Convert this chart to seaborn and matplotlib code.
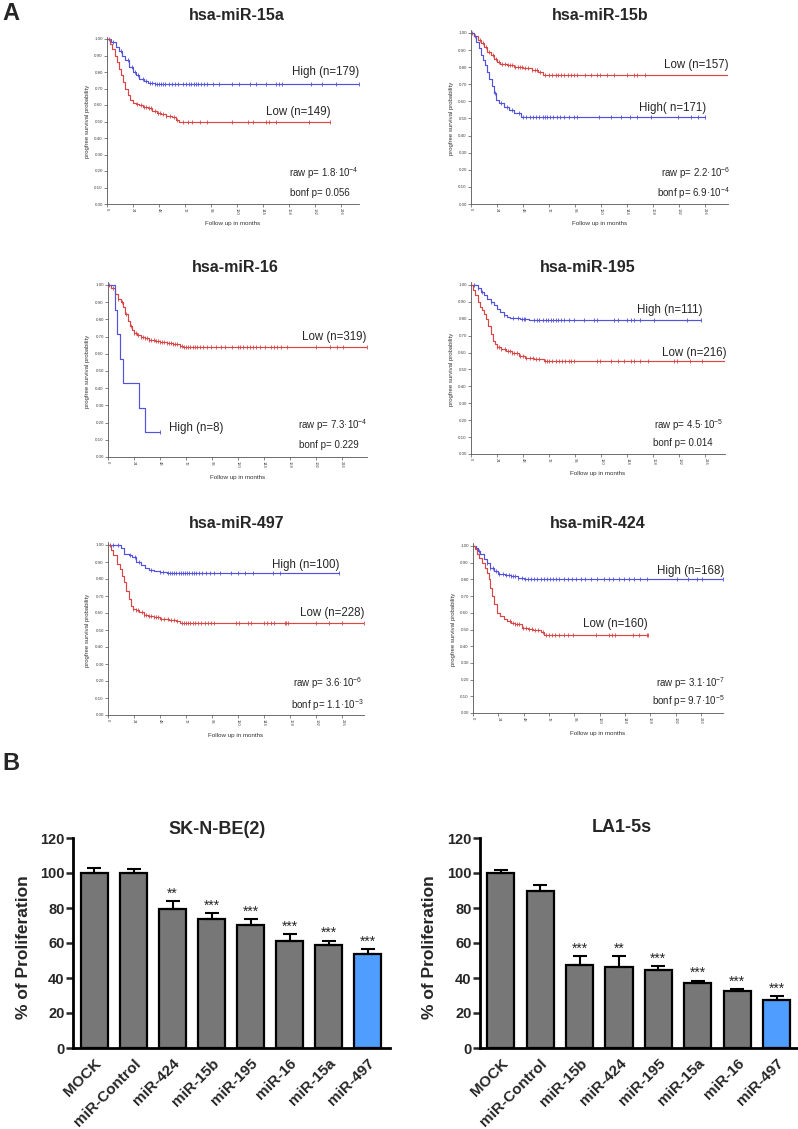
import matplotlib
matplotlib.use('Agg')
import matplotlib.pyplot as plt
import numpy as np
import seaborn as sns

sns.set_style('ticks')
plt.rcParams['font.family'] = ['Liberation Sans', 'DejaVu Sans']

BLUE = '#5252dc'
RED = '#d94646'

# ---------- Kaplan-Meier data (months, survival) ----------
hi15a_t = [0, 4, 8, 11, 14, 17, 20, 24, 27, 30, 34, 38, 44, 233]
hi15a_s = [1.0, 0.98, 0.95, 0.93, 0.90, 0.87, 0.83, 0.80, 0.78, 0.76, 0.745, 0.735, 0.73, 0.73]
hi15a_c = [2, 6, 13, 19, 23, 26, 29, 33, 36, 40, 42, 44, 46, 48, 50, 52, 54, 57, 60, 63, 66, 70,
           73, 76, 78, 80, 82, 84, 87, 90, 92, 98, 104, 116, 122, 132, 138, 147, 156, 159, 162,
           189, 199, 212, 233]
lo15a_t = [0, 3, 5, 7, 9, 11, 13, 15, 17, 19, 21, 24, 27, 30, 33, 38, 42, 46, 50, 55, 60, 64, 67, 206]
lo15a_s = [1.0, 0.97, 0.94, 0.90, 0.86, 0.82, 0.78, 0.74, 0.70, 0.66, 0.63, 0.615, 0.605, 0.60,
           0.59, 0.58, 0.565, 0.55, 0.545, 0.535, 0.525, 0.51, 0.495, 0.495]
lo15a_c = [28, 31, 34, 36, 39, 41, 44, 47, 49, 52, 55, 58, 62, 65, 70, 75, 79, 86, 92, 116, 130,
           135, 147, 150, 156, 187, 206]

lo15b_t = [0, 3, 6, 9, 12, 15, 18, 21, 24, 27, 33, 40, 48, 56, 62, 66, 238]
lo15b_s = [1.0, 0.98, 0.96, 0.94, 0.92, 0.89, 0.87, 0.85, 0.83, 0.82, 0.81, 0.80, 0.795, 0.785,
           0.77, 0.755, 0.755]
lo15b_c = [1, 4, 8, 11, 14, 17, 20, 23, 26, 29, 31, 34, 36, 38, 41, 43, 45, 47, 50, 53, 56, 59, 61,
           64, 68, 72, 75, 78, 80, 83, 86, 89, 92, 95, 98, 105, 111, 116, 119, 125, 132, 144, 150,
           153, 160, 238]
hi15b_t = [0, 3, 5, 7, 9, 11, 13, 15, 17, 19, 21, 23, 26, 30, 35, 40, 46, 216]
hi15b_s = [1.0, 0.98, 0.95, 0.91, 0.87, 0.84, 0.81, 0.77, 0.73, 0.69, 0.65, 0.61, 0.59, 0.57,
           0.55, 0.535, 0.51, 0.51]
hi15b_c = [22, 28, 33, 38, 44, 48, 51, 54, 57, 60, 63, 66, 68, 70, 73, 76, 79, 82, 86, 90, 95, 98,
           118, 129, 138, 147, 153, 166, 191, 203, 209, 216]

lo16_t = [0, 3, 6, 9, 12, 14, 16, 18, 20, 22, 24, 27, 30, 34, 38, 43, 48, 54, 60, 66, 69, 239]
lo16_s = [1.0, 0.98, 0.95, 0.92, 0.90, 0.87, 0.83, 0.79, 0.76, 0.74, 0.72, 0.71, 0.70, 0.69, 0.68,
          0.675, 0.67, 0.66, 0.655, 0.645, 0.64, 0.64]
lo16_c = [1, 5, 9, 13, 17, 21, 24, 26, 28, 30, 32, 34, 36, 38, 40, 42, 44, 46, 48, 50, 52, 54, 56,
          58, 60, 62, 64, 66, 68, 70, 72, 74, 76, 78, 80, 82, 85, 88, 91, 95, 100, 104, 108, 114,
          120, 122, 125, 128, 131, 134, 137, 140, 145, 150, 153, 156, 160, 165, 192, 205, 211, 217,
          239]
hi16_t = [0, 6, 8, 11, 14, 29, 34, 48]
hi16_s = [1.0, 0.857, 0.714, 0.571, 0.429, 0.286, 0.143, 0.143]
hi16_c = [48]

hi195_t = [0, 6, 9, 12, 15, 18, 21, 24, 27, 30, 33, 36, 45, 53, 212]
hi195_s = [1.0, 0.98, 0.96, 0.94, 0.92, 0.90, 0.88, 0.86, 0.84, 0.82, 0.81, 0.805, 0.80, 0.795, 0.795]
hi195_c = [3, 6, 10, 18, 30, 39, 43, 47, 49, 50, 58, 61, 63, 66, 69, 71, 74, 76, 78, 80, 83, 86,
           90, 95, 104, 113, 116, 132, 135, 144, 147, 150, 156, 169, 199, 212]
lo195_t = [0, 2, 4, 6, 8, 10, 12, 14, 16, 18, 20, 22, 24, 28, 32, 38, 44, 50, 58, 64, 67, 235]
lo195_s = [1.0, 0.97, 0.94, 0.90, 0.87, 0.85, 0.83, 0.80, 0.76, 0.71, 0.67, 0.65, 0.635, 0.62,
           0.61, 0.60, 0.58, 0.57, 0.565, 0.56, 0.55, 0.55]
lo195_c = [24, 26, 28, 31, 34, 36, 38, 40, 42, 45, 48, 51, 54, 57, 60, 63, 68, 70, 72, 75, 78, 81,
           84, 87, 90, 92, 95, 116, 119, 129, 135, 141, 147, 150, 156, 163, 187, 190, 202, 213, 235]

hi497_t = [0, 12, 15, 19, 22, 26, 30, 34, 38, 42, 48, 54, 213]
hi497_s = [1.0, 0.98, 0.95, 0.94, 0.93, 0.90, 0.88, 0.865, 0.855, 0.85, 0.84, 0.835, 0.835]
hi497_c = [2, 5, 9, 20, 25, 29, 40, 48, 51, 55, 57, 59, 61, 63, 65, 67, 69, 71, 73, 75, 77, 79,
           81, 84, 87, 90, 94, 98, 103, 113, 120, 126, 134, 152, 159, 213]
lo497_t = [0, 3, 5, 8, 11, 13, 15, 17, 19, 21, 23, 26, 29, 33, 37, 42, 48, 56, 63, 66, 236]
lo497_s = [1.0, 0.97, 0.94, 0.89, 0.86, 0.82, 0.78, 0.73, 0.68, 0.64, 0.625, 0.615, 0.605, 0.59,
           0.58, 0.575, 0.565, 0.56, 0.555, 0.54, 0.54]
lo497_c = [23, 26, 28, 31, 33, 35, 38, 40, 42, 44, 46, 49, 52, 55, 58, 61, 64, 68, 70, 72, 74, 76,
           78, 80, 83, 86, 89, 92, 95, 98, 118, 121, 129, 132, 144, 147, 150, 153, 163, 164, 166,
           192, 204, 216, 236]

hi424_t = [0, 3, 5, 7, 10, 13, 16, 20, 24, 30, 36, 43, 48, 237]
hi424_s = [1.0, 0.99, 0.97, 0.95, 0.92, 0.90, 0.87, 0.85, 0.835, 0.825, 0.82, 0.81, 0.80, 0.80]
hi424_c = [6, 13, 16, 19, 22, 25, 28, 31, 34, 36, 38, 40, 43, 46, 49, 52, 55, 58, 61, 64, 67, 70,
           73, 76, 79, 82, 86, 90, 94, 98, 102, 106, 112, 118, 124, 129, 133, 138, 143, 148, 153,
           158, 165, 193, 204, 212, 217, 237]
lo424_t = [0, 2, 4, 6, 9, 11, 13, 15, 16, 18, 20, 23, 26, 29, 32, 36, 40, 46, 52, 57, 64, 67, 166]
lo424_s = [1.0, 0.98, 0.95, 0.93, 0.90, 0.87, 0.84, 0.80, 0.75, 0.70, 0.65, 0.60, 0.58, 0.565,
           0.55, 0.54, 0.53, 0.51, 0.505, 0.50, 0.485, 0.47, 0.47]
lo424_c = [35, 38, 40, 42, 44, 47, 50, 53, 56, 59, 62, 66, 69, 72, 75, 78, 82, 86, 90, 95, 117,
           129, 132, 135, 152, 157, 165, 166]

km_titles = ['hsa-miR-15a', 'hsa-miR-15b', 'hsa-miR-16', 'hsa-miR-195', 'hsa-miR-497', 'hsa-miR-424']
km_raw = ['1.8', '2.2', '7.3', '4.5', '3.6', '3.1']
km_raw_exp = ['-4', '-6', '-4', '-5', '-6', '-7']
km_bonf = ['0.056', '6.9·10$^{\\mathregular{-4}}$', '0.229', '0.014',
           '1.1·10$^{\\mathregular{-3}}$', '9.7·10$^{\\mathregular{-5}}$']
km_curves = [
    [(hi15a_t, hi15a_s, hi15a_c, BLUE, 'High (n=179)'), (lo15a_t, lo15a_s, lo15a_c, RED, 'Low (n=149)')],
    [(lo15b_t, lo15b_s, lo15b_c, RED, 'Low (n=157)'), (hi15b_t, hi15b_s, hi15b_c, BLUE, 'High( n=171)')],
    [(lo16_t, lo16_s, lo16_c, RED, 'Low (n=319)'), (hi16_t, hi16_s, hi16_c, BLUE, 'High (n=8)')],
    [(hi195_t, hi195_s, hi195_c, BLUE, 'High (n=111)'), (lo195_t, lo195_s, lo195_c, RED, 'Low (n=216)')],
    [(hi497_t, hi497_s, hi497_c, BLUE, 'High (n=100)'), (lo497_t, lo497_s, lo497_c, RED, 'Low (n=228)')],
    [(hi424_t, hi424_s, hi424_c, BLUE, 'High (n=168)'), (lo424_t, lo424_s, lo424_c, RED, 'Low (n=160)')],
]

# ---------- proliferation bar data ----------
sk_labels = ['MOCK', 'miR-Control', 'miR-424', 'miR-15b', 'miR-195', 'miR-16', 'miR-15a', 'miR-497']
sk_mean = [100, 99.8, 79.3, 73.5, 70.3, 61.3, 58.9, 53.5]
sk_err = [3.0, 2.7, 4.8, 3.4, 3.3, 3.6, 2.4, 3.1]
sk_stars = ['', '', '**', '***', '***', '***', '***', '***']

la_labels = ['MOCK', 'miR-Control', 'miR-15b', 'miR-424', 'miR-195', 'miR-15a', 'miR-16', 'miR-497']
la_mean = [100, 90, 47.2, 46.5, 44.8, 37, 32.6, 27.2]
la_err = [1.6, 3.3, 5.2, 5.9, 1.8, 1.4, 1.1, 2.5]
la_stars = ['', '', '***', '**', '***', '***', '***', '***']

W, H = 798, 1129
fig = plt.figure(figsize=(W / 100, H / 100), dpi=100)

# layout in pixels: left, y of 1.00, right, y of 0.00, title x, title y, x max (months)
km_layout = [
    (107, 39, 359, 204, 237, 15, 233),
    (471, 33, 728, 204, 600, 15, 237),
    (108, 285, 367, 457, 235, 267, 239),
    (471, 285, 725, 454, 588, 267, 234),
    (108, 545, 364, 715, 237, 523, 236),
    (473, 546, 723, 713, 598, 523, 237),
]
# label positions in data coords: (x, y, ha) for first curve, second curve, raw p, bonf p
km_text_pos = [
    [(233, 0.80, 'right'), (207, 0.56, 'right'), (233, 0.185), (224, 0.067)],
    [(237, 0.815, 'right'), (217, 0.56, 'right'), (239, 0.18), (239, 0.063)],
    [(238, 0.70, 'right'), (56, 0.17, 'left'), (240, 0.185), (231, 0.072)],
    [(213, 0.85, 'right'), (235, 0.60, 'right'), (233, 0.17), (223, 0.063)],
    [(213, 0.88, 'right'), (236, 0.60, 'right'), (235, 0.19), (236, 0.06)],
    [(238, 0.853, 'right'), (166, 0.53, 'right'), (239, 0.18), (239, 0.07)],
]

YTOP = 1.015
AXC = '#555555'

for i in range(6):
    l, y1, r, y0, tx, ty, xmax = km_layout[i]
    top = y1 - (YTOP - 1) * (y0 - y1)
    ax = fig.add_axes([l / W, 1 - y0 / H, (r - l) / W, (y0 - top) / H])
    for t, s, c, col, lab in km_curves[i]:
        t = np.asarray(t, float)
        s = np.asarray(s, float)
        c = np.asarray(c, float)
        sns.lineplot(x=t, y=s, drawstyle='steps-post', estimator=None, sort=False,
                     color=col, linewidth=0.85, ax=ax)
        idx = np.searchsorted(t, c, side='right') - 1
        sns.scatterplot(x=c, y=s[idx], marker='|', s=9, color=col, edgecolor=col,
                        linewidth=0.6, ax=ax)
    ax.set_xlim(0, xmax)
    ax.set_ylim(0, YTOP)
    ax.set_xticks(np.arange(0, 217, 24))
    ax.set_xticklabels([str(v) for v in range(0, 217, 24)], rotation=-90, fontsize=3, color='#444444')
    ax.set_yticks(np.arange(0, 1.01, 0.1))
    ax.set_yticklabels(['%.2f' % v for v in np.arange(0, 1.01, 0.1)], fontsize=3.2, color='#444444')
    ax.tick_params(length=2, width=0.5, pad=1, colors=AXC, labelcolor='#444444')
    for sp in ['top', 'right']:
        ax.spines[sp].set_visible(False)
    for sp in ['left', 'bottom']:
        ax.spines[sp].set_color(AXC)
        ax.spines[sp].set_linewidth(0.6)
    ax.set_xlabel('')
    ax.set_ylabel('')
    pos = km_text_pos[i]
    for k in range(2):
        x, y, ha = pos[k]
        ax.text(x, y, km_curves[i][k][4], ha=ha, va='center', fontsize=8.3)
    ax.text(pos[2][0], pos[2][1], 'raw p= %s·10$^{\\mathregular{%s}}$' % (km_raw[i], km_raw_exp[i]),
            ha='right', va='center', fontsize=7)
    ax.text(pos[3][0], pos[3][1], 'bonf p= ' + km_bonf[i], ha='right', va='center', fontsize=7)
    fig.text(tx / W, 1 - ty / H, km_titles[i], ha='center', va='center', fontsize=11.5, fontweight='bold')
    fig.text((l - 20) / W, 1 - (y0 + y1) / 2 / H, 'progfree survival probability', rotation=90,
             ha='center', va='center', fontsize=4.3, color='#333333')
    fig.text((l + r) / 2 / W, 1 - (y0 + 20) / H, 'Follow up in months', ha='center', va='center',
             fontsize=4.5, color='#333333')

fig.text(2 / W, 1 - 13 / H, 'A', ha='left', va='center', fontsize=17, fontweight='bold')
fig.text(2 / W, 1 - 763 / H, 'B', ha='left', va='center', fontsize=17, fontweight='bold')

# ---------- bar charts ----------
GRAY = '#777777'
LBLUE = '#4f9dff'
bar_layout = [
    (73, 838, 390, 1048, -0.55, 7.57, 217, 830, 24),
    (480, 838, 797, 1048, -0.53, 7.52, 622, 828, 430),
]
bar_sets = [
    (sk_labels, sk_mean, sk_err, sk_stars, 'SK-N-BE(2)'),
    (la_labels, la_mean, la_err, la_stars, 'LA1-5s'),
]
for (l, t, r, b, x0, x1, tx, ty, ylx), (labels, mean, err, stars, title) in zip(bar_layout, bar_sets):
    ax = fig.add_axes([l / W, 1 - b / H, (r - l) / W, (b - t) / H])
    colors = [GRAY] * (len(labels) - 1) + [LBLUE]
    sns.barplot(x=labels, y=mean, hue=labels, palette=colors, legend=False, width=0.69,
                edgecolor='black', linewidth=1.6, saturation=1, ax=ax)
    xs = np.arange(len(mean))
    ax.errorbar(xs, mean, yerr=[np.zeros(len(err)), err], fmt='none', ecolor='black',
                elinewidth=1.5, capsize=5, capthick=1.5, zorder=3)
    for xi, m, e, st in zip(xs, mean, err, stars):
        if st:
            ax.text(xi, m + e + 0.3, st, ha='center', va='bottom', fontsize=10)
    ax.set_xlim(x0, x1)
    ax.set_ylim(0, 120)
    ax.set_yticks(range(0, 121, 20))
    ax.set_yticklabels([str(v) for v in range(0, 121, 20)], fontsize=10.5, fontweight='bold')
    ax.set_xticks(xs)
    ax.set_xticklabels(labels, rotation=45, ha='right', rotation_mode='anchor',
                       fontsize=11, fontweight='bold')
    ax.tick_params(axis='y', length=5, width=1.8, pad=1)
    ax.tick_params(axis='x', length=0, pad=6)
    for sp in ['top', 'right']:
        ax.spines[sp].set_visible(False)
    for sp in ['left', 'bottom']:
        ax.spines[sp].set_linewidth(2)
        ax.spines[sp].set_color('black')
    ax.set_xlabel('')
    ax.set_ylabel('')
    fig.text(tx / W, 1 - ty / H, title, ha='center', va='center', fontsize=13, fontweight='bold')
    fig.text(ylx / W, 1 - ((t + b) / 2 + 4) / H, '% of Proliferation', rotation=90, ha='center',
             va='center', fontsize=12.5, fontweight='bold')

fig.savefig('out.png', dpi=100)
